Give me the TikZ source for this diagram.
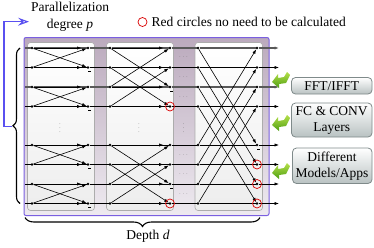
\documentclass[tikz,border=0pt]{standalone}
\usepackage{fontspec}
\setmainfont{Liberation Serif}
\usetikzlibrary{arrows.meta,decorations.pathreplacing,calc}
\definecolor{framec}{HTML}{7A5FE0}
\definecolor{frametop}{HTML}{BBAABD}
\definecolor{framebot}{HTML}{EEEAF0}
\definecolor{bluec}{HTML}{5A50F0}
\definecolor{boxborder}{HTML}{7F8A8A}
\definecolor{boxbot}{HTML}{B9C2C2}
\definecolor{greenA}{HTML}{B5E04A}
\definecolor{greenB}{HTML}{4E9E12}
\begin{document}
\begin{tikzpicture}[x=1pt,y=-1pt,
  dot/.style={circle,fill=black,inner sep=0pt,minimum size=2.6pt},
  arr/.style={-{Latex[length=4.5pt,width=3.2pt]}},
  rowthick/.style={line width=1.3pt,draw=gray!70!black},
  rowthin/.style={line width=0.6pt,draw=black},
  redc/.style={circle,draw=red!85!black,line width=0.7pt,inner sep=0pt,minimum size=9pt},
  minus/.style={fill=black,inner sep=0pt,minimum width=3.5pt,minimum height=0.9pt},
  panel/.style={draw=gray!65,line width=0.6pt,rounded corners=3pt,top color=white,bottom color=gray!14},
  lbl/.style={font=\fontsize{13.5}{16.5}\selectfont,inner sep=0pt,align=center},
  sbox/.style={draw=boxborder,line width=0.8pt,rounded corners=4pt,top color=white,bottom color=boxbot},
  hdots/.style={font=\tiny,text=gray!60!black,inner sep=0pt},
  garrow/.style={top color=greenA,bottom color=greenB,draw=none}]
\useasboundingbox (0,0) rectangle (374,247);

% outer frame and panels
\path[draw=framec,line width=1pt,rounded corners=2pt,top color=frametop,bottom color=framebot] (24,37.5) rectangle (269,215.5);
\path[panel] (27.5,42.5) rectangle (94.5,210.5);
\path[panel] (106.5,42.5) rectangle (173.5,210.5);
\path[panel] (195,42.5) rectangle (262.5,210.5);

% rows
\foreach \i/\y in {1/48,2/67.5,3/87,4/106.5,5/145,6/164.5,7/184,8/203.5}{
  \coordinate (s\i) at (25,\y);
  \node[dot] (a\i) at (32,\y) {};
  \node[dot] (b\i) at (88,\y) {};
  \node[dot] (c\i) at (110,\y) {};
  \node[dot] (d\i) at (170,\y) {};
  \node[dot] (e\i) at (198,\y) {};
  \node[dot] (f\i) at (257,\y) {};
  \coordinate (z\i) at (279,\y);
}
\foreach \i/\st in {1/rowthick,2/rowthin,3/rowthick,4/rowthin,5/rowthin,6/rowthin,7/rowthin,8/rowthin}{
  \draw[\st,arr] (s\i) -- (a\i) -- (b\i) -- (c\i) -- (d\i) -- (e\i) -- (f\i) -- (z\i);
  \draw[rowthin,arr,shorten >=5pt] (a\i) -- (b\i);
  \draw[rowthin,arr,shorten >=5pt] (c\i) -- (d\i);
}

% butterflies
\foreach \p/\q in {1/2,3/4,5/6,7/8}{
  \draw[rowthin,arr] (a\p) -- (b\q);
  \draw[rowthin,arr] (a\q) -- (b\p);
}
\foreach \p/\q in {1/3,2/4,5/7,6/8}{
  \draw[rowthin,arr] (c\p) -- (d\q);
  \draw[rowthin,arr] (c\q) -- (d\p);
}
\foreach \p/\q in {1/5,2/6,3/7,4/8}{
  \draw[rowthin,arr] (e\p) -- (f\q);
  \draw[rowthin,arr] (e\q) -- (f\p);
}

% minus signs
\foreach \n in {b2,b4,b6,b8,d3,d7,f5}{
  \node[minus] (m-\n) at ($(\n)+(1.5,4.2)$) {};
}
% red circles
\foreach \n in {d4,d8,f6,f7,f8}{
  \node[redc] (r-\n) at (\n) {};
}

% dots
\foreach \y [count=\k] in {57.5,77,97,155,174.5,194}{
  \node[hdots] (hd\k) at (183.5,\y) {$\cdots$};
}
\node[hdots] (vd1) at (60,125) {$\vdots$};
\node[hdots] (vd2) at (139,125) {$\vdots$};
\node[hdots] (vd3) at (183.5,125) {$\vdots$};

% legend
\node[redc] (legc) at (142.5,22) {};
\node[lbl,anchor=base west] (legt) at (151.5,26.5) {Red circles no need to be calculated};

% parallelization label and blue arrow
\node[lbl] (par) at (70,17) {Parallelization\\degree \textit{p}};
\coordinate (bt) at (12,126.5);
\coordinate (bc) at (4,126.5);
\coordinate (bu) at (4,21.7);
\coordinate (bh) at (29,21.7);
\draw[bluec,line width=1.1pt,-{Stealth[open,length=11pt,width=8pt,inset=4pt]}] (bt) -- (bc) -- (bu) -- (bh);

% braces
\coordinate (lb1) at (20,203.5);
\coordinate (lb2) at (20,48);
\draw[line width=1.1pt,decorate,decoration={brace,amplitude=7pt}] (lb1) -- (lb2);
\coordinate (bb1) at (260,217.5);
\coordinate (bb2) at (25,217.5);
\draw[line width=1.1pt,decorate,decoration={brace,amplitude=9pt}] (bb1) -- (bb2);
\node[lbl] (depth) at (148,236.5) {Depth \textit{d}};

% side boxes
\path[sbox] (291.5,77.5) rectangle (372,94);
\node[lbl] (fft) at (331.7,86) {FFT/IFFT};
\path[sbox] (291.5,103) rectangle (372,137);
\node[lbl] (fc) at (331.7,120.5) {FC \& CONV\\Layers};
\path[sbox] (292.5,148) rectangle (372,183.5);
\node[lbl] (dm) at (332,166) {Different\\Models/Apps};

% green arrows
\foreach \cx/\cy in {281/79,281/122,281/170}{
  \path[garrow,shift={(\cx,\cy)}] (-9,3) -- (-3,-5) -- (-3,-1) -- (3,-2) -- (6,-7) -- (9,-4) -- (5,4) -- (-2,5) -- (-2,9) -- cycle;
}
\end{tikzpicture}
\end{document}
